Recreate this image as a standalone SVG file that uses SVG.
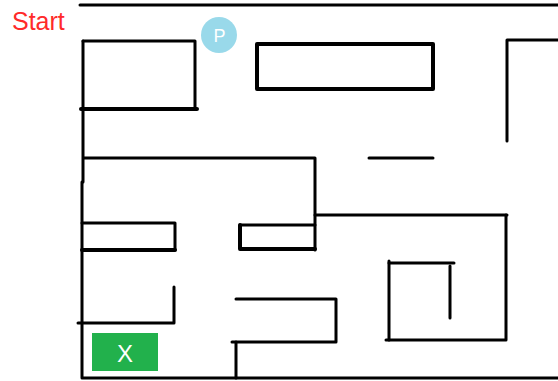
<svg xmlns="http://www.w3.org/2000/svg" width="558" height="381" viewBox="0 0 558 381">
  <style>
    .wall { fill: none; stroke: #000; stroke-width: 3; stroke-linecap: round; stroke-linejoin: round; }
    .thick { stroke-width: 4; }
    .label { font-family: "Liberation Sans", Arial, sans-serif; }
  </style>
  <rect width="558" height="381" fill="#fff"/>

  <!-- maze walls -->
  <g id="walls">
    <path class="wall" d="M80 5 H558"/>
    <path class="wall" d="M83 41 H195 V109"/>
    <path class="wall thick" d="M81 109 H197"/>
    <path class="wall" d="M83 41 V182"/>
    <path class="wall" d="M82 182 V378 H558"/>
    <path class="wall thick" d="M257 44 H433 V89 H257 Z"/>
    <path class="wall" d="M558 40 H507 V141"/>
    <path class="wall" d="M369 158 H433"/>
    <path class="wall" d="M84 158 H315 V250"/>
    <path class="wall" d="M315 215 H507"/>
    <path class="wall" d="M506 215 V340 H386"/>
    <path class="wall" d="M389 261 V340"/>
    <path class="wall" d="M389 263 H454"/>
    <path class="wall" d="M450 266 V318"/>
    <path class="wall" d="M82 223 H175 V250"/>
    <path class="wall thick" d="M82 250 H175"/>
    <path class="wall" d="M240 225 H315"/>
    <path class="wall thick" d="M240 225 V249 H315"/>
    <path class="wall" d="M174 287 V323 H78"/>
    <path class="wall" d="M236 299 H336 V342 H232"/>
    <path class="wall" d="M236 342 V378"/>
  </g>

  <!-- start label -->
  <g id="start">
    <text class="label" x="12" y="30" font-size="25" fill="#ff2a2a">Start</text>
  </g>

  <!-- player marker -->
  <g id="player">
    <circle cx="219" cy="35" r="18" fill="#99d9ea"/>
    <text class="label" x="219.5" y="41.5" font-size="18" fill="#fff" text-anchor="middle">P</text>
  </g>

  <!-- goal marker -->
  <g id="goal">
    <rect x="92" y="333" width="66" height="38" fill="#22b14c"/>
    <text class="label" x="125" y="362" font-size="24" fill="#fff" text-anchor="middle">X</text>
  </g>
</svg>
